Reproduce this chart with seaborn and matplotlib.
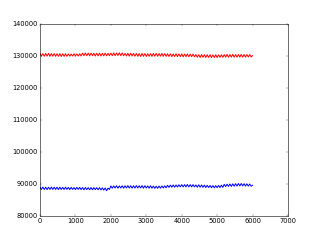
import matplotlib
matplotlib.use("Agg")
import matplotlib.pyplot as plt
import seaborn as sns

x_step = 40
x_values = list(range(0, 6001, x_step))

red_values = [
    130800, 129950, 130750, 129900, 130800, 129950, 130800, 129900, 130750, 129950,
    130750, 129900, 130700, 129900, 130750, 129850, 130700, 129900, 130700, 129900,
    130650, 129950, 130600, 130000, 130700, 129950, 130650, 130000, 130700, 130000,
    130900, 130100, 130950, 130100, 130900, 130050, 130900, 130100, 130850, 130000,
    130850, 130050, 130900, 130000, 130850, 130050, 130900, 130050, 130850, 130100,
    130900, 130100, 130950, 130100, 130950, 130150, 131000, 130100, 130950, 130100,
    130800, 130000, 130850, 129950, 130850, 130000, 130800, 129950, 130800, 129900,
    130750, 129850, 130800, 129900, 130750, 129850, 130700, 129900, 130750, 129900,
    130800, 129950, 130800, 129900, 130750, 129950, 130800, 129900, 130750, 129900,
    130700, 129850, 130700, 129800, 130650, 129850, 130700, 129800, 130650, 129800,
    130650, 129750, 130600, 129800, 130650, 129750, 130600, 129800, 130600, 129750,
    130450, 129600, 130400, 129550, 130450, 129600, 130400, 129550, 130400, 129550,
    130400, 129500, 130350, 129550, 130400, 129500, 130350, 129600, 130400, 129600,
    130450, 129650, 130500, 129600, 130450, 129650, 130500, 129650, 130450, 129650,
    130450, 129650, 130500, 129650, 130450, 129650, 130450, 129700, 130450, 129700,
    130100,
]

blue_values = [
    89000, 88300, 89050, 88300, 89000, 88250, 89000, 88300, 89050, 88300,
    89000, 88300, 89000, 88250, 89000, 88300, 88950, 88300, 89000, 88300,
    88950, 88250, 88950, 88300, 88900, 88250, 88950, 88300, 88950, 88250,
    88900, 88200, 88900, 88250, 88850, 88200, 88900, 88200, 88850, 88250,
    88850, 88200, 88850, 88150, 88800, 88100, 88750, 87900, 88700, 88300,
    89400, 88700, 89400, 88750, 89450, 88700, 89400, 88750, 89450, 88700,
    89450, 88750, 89500, 88750, 89450, 88700, 89450, 88750, 89500, 88750,
    89450, 88750, 89500, 88700, 89450, 88750, 89400, 88700, 89450, 88700,
    89350, 88650, 89300, 88650, 89350, 88700, 89400, 88750, 89450, 88800,
    89600, 88950, 89650, 89000, 89700, 89000, 89700, 89050, 89750, 89100,
    89800, 89100, 89800, 89100, 89850, 89100, 89800, 89100, 89800, 89100,
    89700, 89000, 89750, 89000, 89700, 88950, 89650, 88900, 89600, 88900,
    89550, 88850, 89500, 88800, 89500, 88850, 89550, 88900, 89650, 88950,
    89900, 89200, 89950, 89250, 90000, 89250, 90050, 89300, 90100, 89350,
    90150, 89400, 90150, 89400, 90100, 89350, 90050, 89350, 90000, 89300,
    89600,
]

x_limits = (0, 7000)
y_limits = (80000, 140000)

plt.style.use("classic")
plt.rcParams["font.family"] = ["DejaVu Sans"]

fig = plt.figure(figsize=(8, 6), dpi=40, facecolor="white")
ax = fig.add_subplot(111)

sns.lineplot(x=x_values, y=red_values, color="red", lw=1.8, ax=ax)
sns.lineplot(x=x_values, y=blue_values, color="blue", lw=1.8, ax=ax)

ax.set_xlim(*x_limits)
ax.set_ylim(*y_limits)
ax.ticklabel_format(useOffset=False, style="plain")
ax.set_xlabel("")
ax.set_ylabel("")
ax.tick_params(labelsize=12)

fig.savefig("out.png", dpi=40, facecolor="white")
